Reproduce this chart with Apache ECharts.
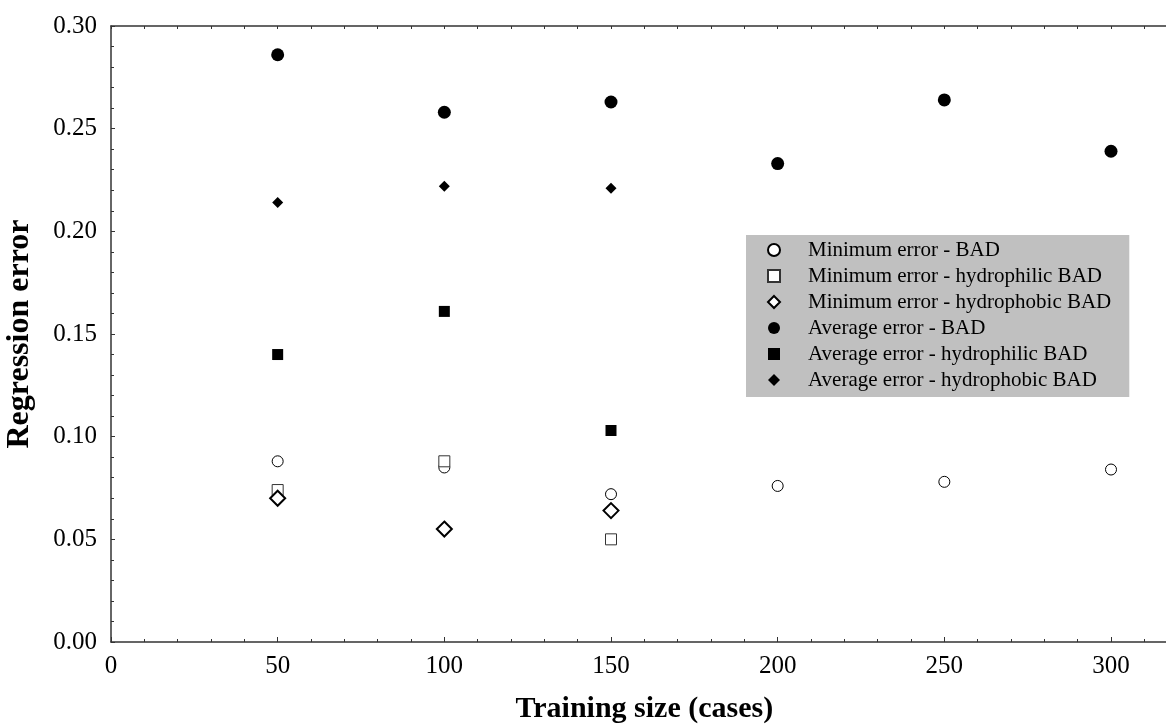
<!DOCTYPE html>
<html>
<head>
<meta charset="utf-8">
<script src="https://cdn.jsdelivr.net/npm/echarts@6/dist/echarts.min.js"></script>
<style>
  html, body { margin: 0; padding: 0; background: #fff; }
  #chart { width: 1166px; height: 725px; }
</style>
</head>
<body>
<div id="chart"></div>
<script>
// training sizes
var sizesAll = [50, 100, 150, 200, 250, 300];
var sizesPart = [50, 100, 150];

// minimum errors
var minBad = [0.088, 0.085, 0.072, 0.076, 0.078, 0.084];
var minPhilic = [0.074, 0.088, 0.050];
var minPhobic = [0.070, 0.055, 0.064];

// average errors
var avgBad = [0.286, 0.258, 0.263, 0.233, 0.264, 0.239];
var avgPhilic = [0.140, 0.161, 0.103];
var avgPhobic = [0.214, 0.222, 0.221];

function pairs(xs, ys) {
  return ys.map(function (v, i) { return [xs[i], v]; });
}

var font = 'Liberation Serif';
var axisColor = '#333';

var chart = echarts.init(document.getElementById('chart'));

var option = {
  backgroundColor: '#fff',
  animation: false,
  grid: { left: 111, top: 26, bottom: 83, right: -11.67, outerBoundsMode: 'none', containLabel: false },
  legend: {
    orient: 'vertical',
    left: 746,
    top: 235,
    width: 381,
    backgroundColor: '#c0c0c0',
    padding: [4, 18, 6, 21],
    itemWidth: 12,
    itemHeight: 12,
    itemGap: 4,
    textStyle: { fontFamily: font, fontSize: 21, color: '#000', lineHeight: 22, padding: [0, 0, 0, 23] },
    data: [
      'Minimum error - BAD',
      'Minimum error - hydrophilic BAD',
      'Minimum error - hydrophobic BAD',
      'Average error - BAD',
      'Average error - hydrophilic BAD',
      'Average error - hydrophobic BAD'
    ]
  },
  xAxis: [{
    type: 'value',
    min: 0,
    max: 320,
    interval: 50,
    name: 'Training size (cases)',
    nameLocation: 'middle',
    nameGap: 52,
    nameTextStyle: { fontFamily: font, fontSize: 30, fontWeight: 'bold', color: '#000' },
    axisLine: { lineStyle: { color: axisColor, width: 1.5 } },
    axisTick: { inside: true, length: 5, lineStyle: { color: axisColor } },
    minorTick: { show: true, splitNumber: 5, length: 3, lineStyle: { color: axisColor } },
    axisLabel: { fontFamily: font, fontSize: 25, color: '#000', margin: 12, showMaxLabel: false },
    splitLine: { show: false }
  }, {
    type: 'value',
    position: 'top',
    min: 0,
    max: 320,
    interval: 10,
    axisLine: { lineStyle: { color: axisColor, width: 1.5 } },
    axisTick: { inside: true, length: 3, lineStyle: { color: axisColor } },
    axisLabel: { show: false },
    splitLine: { show: false }
  }],
  yAxis: {
    type: 'value',
    min: 0,
    max: 0.3,
    interval: 0.05,
    name: 'Regression error',
    nameLocation: 'middle',
    nameGap: 75,
    nameTextStyle: { fontFamily: font, fontSize: 32, fontWeight: 'bold', color: '#000' },
    axisLine: { show: true, lineStyle: { color: axisColor, width: 1.5 } },
    axisTick: { show: true, inside: true, length: 4, lineStyle: { color: axisColor } },
    minorTick: { show: true, splitNumber: 5, length: 3, lineStyle: { color: axisColor } },
    axisLabel: {
      fontFamily: font, fontSize: 25, color: '#000', margin: 14,
      formatter: function (v) { return v.toFixed(2); }
    },
    splitLine: { show: false }
  },
  series: [{
    name: 'Minimum error - BAD',
    type: 'scatter',
    symbol: 'circle',
    symbolSize: 11,
    itemStyle: { color: '#fff', borderColor: '#000', borderWidth: 1, opacity: 1 },
    data: pairs(sizesAll, minBad)
  }, {
    name: 'Minimum error - hydrophilic BAD',
    type: 'scatter',
    symbol: 'rect',
    symbolSize: 11,
    itemStyle: { color: '#fff', borderColor: '#333', borderWidth: 1, opacity: 1 },
    data: pairs(sizesPart, minPhilic)
  }, {
    name: 'Minimum error - hydrophobic BAD',
    type: 'scatter',
    symbol: 'diamond',
    symbolSize: 15,
    itemStyle: { color: '#fff', borderColor: '#000', borderWidth: 2, opacity: 1 },
    data: pairs(sizesPart, minPhobic)
  }, {
    name: 'Average error - BAD',
    type: 'scatter',
    symbol: 'circle',
    symbolSize: 13,
    itemStyle: { color: '#000', opacity: 1 },
    data: pairs(sizesAll, avgBad)
  }, {
    name: 'Average error - hydrophilic BAD',
    type: 'scatter',
    symbol: 'rect',
    symbolSize: 11,
    itemStyle: { color: '#000', opacity: 1 },
    data: pairs(sizesPart, avgPhilic)
  }, {
    name: 'Average error - hydrophobic BAD',
    type: 'scatter',
    symbol: 'diamond',
    symbolSize: 11,
    itemStyle: { color: '#000', opacity: 1 },
    data: pairs(sizesPart, avgPhobic)
  }]
};

chart.setOption(option);
</script>
</body>
</html>
